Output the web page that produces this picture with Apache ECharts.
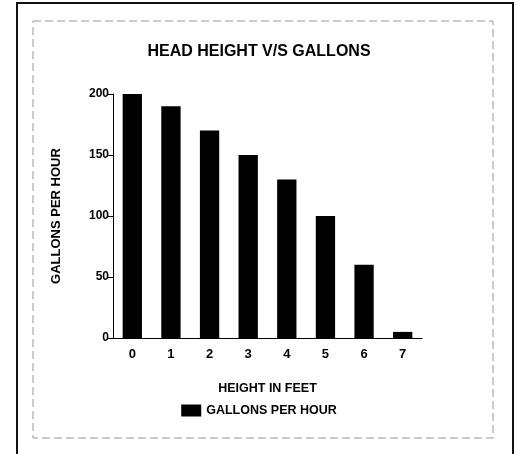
<!DOCTYPE html>
<html>
<head>
<meta charset="utf-8">
<script src="https://cdn.jsdelivr.net/npm/echarts@6/dist/echarts.min.js"></script>
<style>
  html, body { margin: 0; padding: 0; background: #fff; }
  #container { width: 518px; height: 454px; }
</style>
</head>
<body>
<div id="container"></div>
<script>
// datos
var heights = ['0', '1', '2', '3', '4', '5', '6', '7'];
var gallonsPerHour = [200, 190, 170, 150, 130, 100, 60, 5];
var seriesName = 'GALLONS PER HOUR';

document.addEventListener('DOMContentLoaded', function () {
    var dom = document.getElementById('container');
    var myChart = echarts.init(dom);
    var font = 'Arial, "Liberation Sans", sans-serif';

    var option = {
        backgroundColor: '#fff',
        animation: false,
        title: {
            text: 'HEAD HEIGHT V/S GALLONS',
            left: 'center',
            top: 39,
            textStyle: { fontFamily: font, fontSize: 16, fontWeight: 'bold', color: '#000' }
        },
        legend: {
            data: [seriesName],
            bottom: 32,
            left: 'center',
            icon: 'rect',
            itemWidth: 20,
            itemHeight: 12,
            itemGap: 6,
            textStyle: { fontFamily: font, fontSize: 12.5, fontWeight: 'bold', color: '#000' }
        },
        grid: { left: 113, right: 96, top: 94, bottom: 116 },
        xAxis: {
            type: 'category',
            data: heights,
            name: 'HEIGHT IN FEET',
            nameLocation: 'middle',
            nameGap: 44,
            nameTextStyle: { fontFamily: font, fontSize: 12.5, fontWeight: 'bold', color: '#000' },
            axisLine: { lineStyle: { color: '#000', width: 1 } },
            axisTick: { length: 3, lineStyle: { color: '#444' } },
            axisLabel: { fontFamily: font, fontSize: 13, fontWeight: 'bold', color: '#000', margin: 10 }
        },
        yAxis: {
            type: 'value',
            min: 0,
            max: 200,
            interval: 50,
            name: 'GALLONS PER HOUR',
            nameLocation: 'middle',
            nameGap: 50,
            nameTextStyle: { fontFamily: font, fontSize: 13, fontWeight: 'bold', color: '#000' },
            axisLine: { show: true, lineStyle: { color: '#000', width: 1 } },
            axisTick: { show: true, length: 5, lineStyle: { color: '#000' } },
            splitLine: { show: false },
            axisLabel: { fontFamily: font, fontSize: 12, fontWeight: 'bold', color: '#000', margin: 4 }
        },
        series: [
            {
                name: seriesName,
                type: 'bar',
                data: gallonsPerHour,
                barWidth: '50%',
                itemStyle: { color: '#000' }
            }
        ],
        graphic: [
            {
                type: 'rect',
                shape: { x: 17, y: 3, width: 496, height: 460 },
                style: { fill: null, stroke: '#111', lineWidth: 2 },
                silent: true
            },
            {
                type: 'rect',
                shape: { x: 33, y: 21, width: 460, height: 417 },
                style: { fill: null, stroke: '#999', lineWidth: 1, lineDash: [8, 4] },
                silent: true
            }
        ]
    };

    myChart.setOption(option);
    window.addEventListener('resize', myChart.resize);
});
</script>
</body>
</html>
